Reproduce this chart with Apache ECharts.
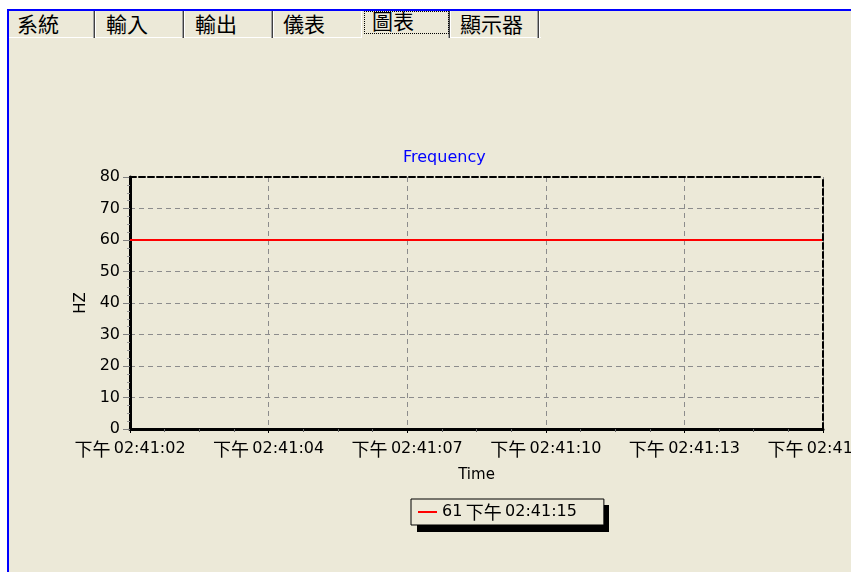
<!DOCTYPE html>
<html>
<head>
<meta charset="utf-8">
<script src="https://cdn.jsdelivr.net/npm/echarts@6/dist/echarts.min.js"></script>
<style>
  html, body { margin:0; padding:0; width:851px; height:572px; overflow:hidden; background:#ffffff; }
  #frame { position:absolute; left:7px; top:9px; width:844px; height:563px; background:#ECE9D8;
           border-top:2px solid #0000ff; border-left:2px solid #0000ff; box-sizing:border-box; }
  .tab { position:absolute; font-family:"Noto Sans CJK TC", "Noto Sans CJK SC", sans-serif; font-size:21px;
         line-height:24px; color:#000; white-space:nowrap; }
  .sep { position:absolute; top:11px; width:3px; height:27px;
         background:linear-gradient(to right, #a0a0a0 0 1px, #404040 1px 2px, #ffffff 2px 3px); }
  .wl { position:absolute; top:37px; height:1px; background:#ffffff; }
  #focus { position:absolute; left:364px; top:11px; width:85px; height:23px; border:1px dotted #000; box-sizing:border-box; }
  #chart { position:absolute; left:0; top:0; width:851px; height:572px; z-index:2; }
</style>
</head>
<body>
<div id="frame"></div>
<div class="wl" style="left:9px;width:352px"></div>
<div class="wl" style="left:451px;width:90px"></div>
<div class="sep" style="left:93px"></div>
<div class="sep" style="left:182px"></div>
<div class="sep" style="left:271px"></div>
<div class="sep" style="left:448px"></div>
<div class="sep" style="left:537px"></div>
<div style="position:absolute;left:361px;top:11px;width:1px;height:27px;background:#fff"></div>
<div id="focus"></div>
<div class="tab" style="left:17px;top:11px">系統</div>
<div class="tab" style="left:106px;top:11px">輸入</div>
<div class="tab" style="left:195px;top:11px">輸出</div>
<div class="tab" style="left:283px;top:11px">儀表</div>
<div class="tab" style="left:372px;top:8px">圖表</div>
<div class="tab" style="left:460px;top:11px">顯示器</div>
<div id="chart"></div>
<script>
// ---- data ----
const timeLabels = ['下午 02:41:02', '下午 02:41:04', '下午 02:41:07', '下午 02:41:10', '下午 02:41:13', '下午 02:41:15'];
const freqValues = [60, 60, 60, 60, 60, 60];
const yMin = 0, yMax = 80, yStep = 10;
const legendValue = 61;
const legendTime = '下午 02:41:15';
const chartTitle = 'Frequency';
const yName = 'HZ';
const xName = 'Time';

const seriesName = legendValue + ' ' + legendTime;
const points = freqValues.map((v, i) => [i, v]);

const latin = 'DejaVu Sans';
const cjk = '"Noto Sans CJK TC"';
const richStyles = {
  a: { fontFamily: cjk, fontSize: 18, color: '#000' },
  b: { fontFamily: latin, fontSize: 16, color: '#000' }
};
function richTime(s) {
  const parts = s.split(' ');
  return '{a|' + parts[0] + '} {b|' + parts[1] + '}';
}

const chart = echarts.init(document.getElementById('chart'));
chart.setOption({
  animation: false,
  title: {
    text: chartTitle, left: 403, top: 150, padding: 0,
    textStyle: { color: '#0000ff', fontFamily: latin, fontSize: 16, fontWeight: 'normal' }
  },
  grid: { left: 130, top: 177, width: 693, height: 252, containLabel: false, outerBoundsMode: 'none' },
  xAxis: [{
    type: 'value', min: 0, max: timeLabels.length - 1, interval: 1,
    name: xName, nameLocation: 'middle', nameGap: 39,
    nameTextStyle: { fontFamily: latin, fontSize: 15, color: '#000' },
    axisLine: { onZero: false, lineStyle: { color: '#000', width: 3 } },
    axisTick: { show: true, length: 4, lineStyle: { color: '#000', width: 1 } },
    minorTick: { show: true, splitNumber: 4, length: 3, lineStyle: { color: '#666', width: 1 } },
    axisLabel: {
      margin: 11, showMaxLabel: true, showMinLabel: true, hideOverlap: false,
      formatter: v => richTime(timeLabels[v]), rich: richStyles
    },
    splitLine: { show: true, lineStyle: { color: '#8c8c8c', width: 1, type: [5, 4] } }
  }, {
    type: 'value', position: 'top', min: 0, max: timeLabels.length - 1, interval: 1, z: 5,
    axisLine: { show: true, onZero: false, lineStyle: { color: '#000', width: 2, type: [6, 3] } },
    axisTick: { show: false }, axisLabel: { show: false }, splitLine: { show: false }
  }],
  yAxis: [{
    type: 'value', min: yMin, max: yMax, interval: yStep,
    name: yName, nameLocation: 'middle', nameGap: 30, nameRotate: 90,
    nameTextStyle: { fontFamily: latin, fontSize: 15, color: '#000' },
    axisLine: { show: true, onZero: false, lineStyle: { color: '#000', width: 3 } },
    axisTick: { show: true, length: 7, lineStyle: { color: '#808080', width: 1 } },
    minorTick: { show: true, splitNumber: 4, length: 3, lineStyle: { color: '#999', width: 1 } },
    axisLabel: { margin: 10, fontFamily: latin, fontSize: 16, color: '#000' },
    splitLine: { show: true, lineStyle: { color: '#8c8c8c', width: 1, type: [5, 4] } }
  }, {
    type: 'value', position: 'right', min: yMin, max: yMax, interval: yStep, z: 5,
    axisLine: { show: true, onZero: false, lineStyle: { color: '#000', width: 2, type: [6, 3] } },
    axisTick: { show: false }, axisLabel: { show: false }, splitLine: { show: false }
  }],
  legend: {
    left: 411, top: 499, padding: [4, 27, 4, 7],
    backgroundColor: '#ECE9D8', borderColor: '#000', borderWidth: 1, borderRadius: 0,
    icon: 'rect', itemWidth: 19, itemHeight: 2,
    data: [seriesName],
    formatter: () => '{b|' + legendValue + '} ' + richTime(legendTime),
    textStyle: { rich: richStyles },
    z: 10
  },
  graphic: [{
    type: 'rect', left: 417, top: 505, z: 1, silent: true,
    shape: { width: 192, height: 27 }, style: { fill: '#000' }
  }],
  series: [{
    name: seriesName, type: 'line', data: points, xAxisIndex: 0, yAxisIndex: 0,
    showSymbol: false, symbol: 'none',
    lineStyle: { color: '#ff0000', width: 2 }, itemStyle: { color: '#ff0000' }
  }]
});
</script>
</body>
</html>
